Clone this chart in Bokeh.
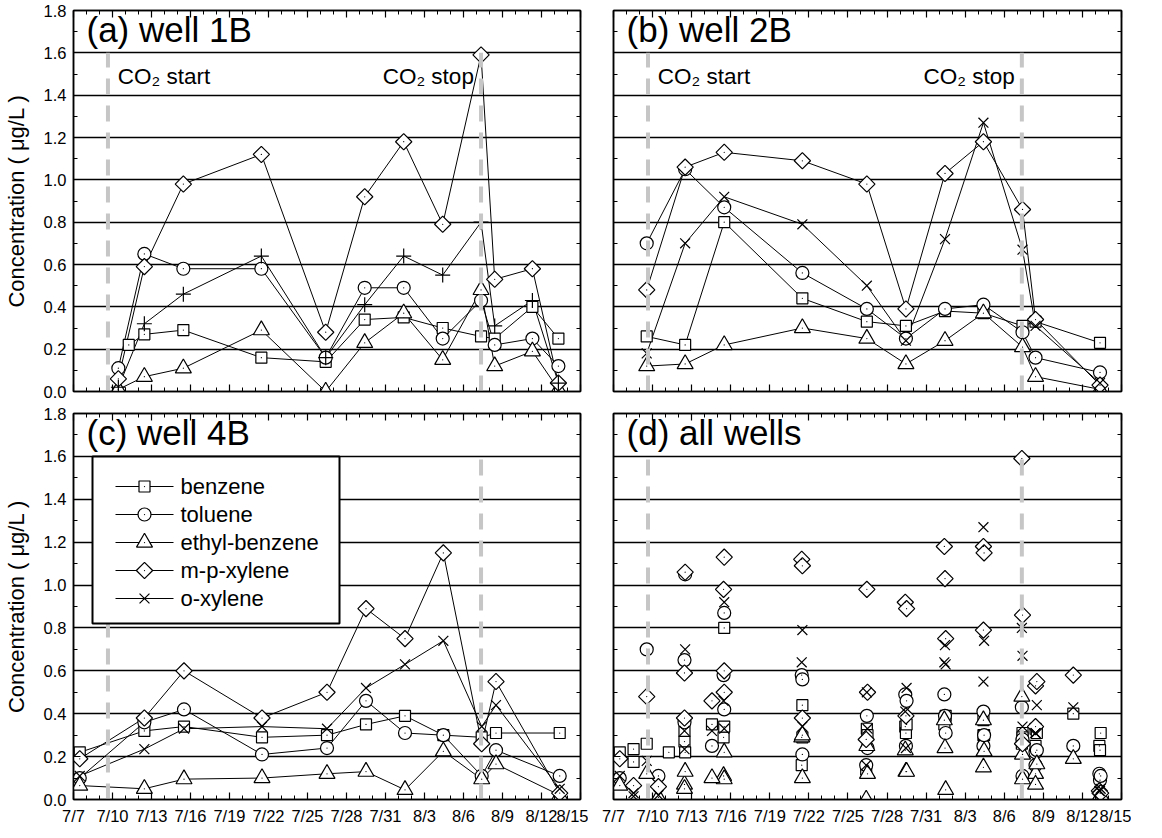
import math
from bokeh.plotting import figure
from bokeh.layouts import row, column
from bokeh.models import FixedTicker, Label, LinearAxis, Range1d
from bokeh.core.properties import value
from bokeh.embed import file_html
from bokeh.resources import INLINE

FONT = "Liberation Sans"

# ---------------- data (x = days after 7/7 00:00) ----------------
date_ticks = [0, 3, 6, 9, 12, 15, 18, 21, 24, 27, 30, 33, 36, 39]
date_labels = ["7/7", "7/10", "7/13", "7/16", "7/19", "7/22", "7/25", "7/28",
               "7/31", "8/3", "8/6", "8/9", "8/12", "8/15"]
conc_ticks = [0.0, 0.2, 0.4, 0.6, 0.8, 1.0, 1.2, 1.4, 1.6, 1.8]
conc_labels = ["0.0", "0.2", "0.4", "0.6", "0.8", "1.0", "1.2", "1.4", "1.6", "1.8"]

co2_days = [2.65, 31.35]          # CO2 start / stop
co2_top = [1.6, 1.6]

species = ["benzene", "toluene", "ethyl-benzene", "m-p-xylene", "o-xylene"]

# well 1B
days_1b = [3.45, 5.45, 8.45, 14.45, 19.4, 22.4, 25.4, 28.4, 31.35, 32.4, 35.3, 37.3]
days_1b_benzene = [4.25, 5.45, 8.45, 14.45, 19.4, 22.4, 25.4, 28.4, 31.35, 32.4, 35.3, 37.3]
benzene_1b = [0.22, 0.27, 0.29, 0.16, 0.14, 0.34, 0.35, 0.30, 0.26, 0.25, 0.40, 0.25]
toluene_1b = [0.11, 0.65, 0.58, 0.58, 0.16, 0.49, 0.49, 0.25, 0.43, 0.22, 0.25, 0.12]
ethylbenzene_1b = [0.01, 0.07, 0.11, 0.29, 0.0, 0.23, 0.37, 0.15, 0.48, 0.12, 0.19, 0.01]
mpxylene_1b = [0.06, 0.59, 0.98, 1.12, 0.28, 0.92, 1.18, 0.79, 1.59, 0.53, 0.58, 0.04]
oxylene_1b = [0.02, 0.32, 0.46, 0.64, 0.16, 0.41, 0.64, 0.55, 0.80, 0.31, 0.43, 0.04]

# well 2B
days_2b = [2.55, 5.5, 8.5, 14.5, 19.45, 22.45, 25.45, 28.4, 31.4, 32.4, 37.35]
benzene_2b = [0.26, 0.22, 0.80, 0.44, 0.33, 0.31, 0.38, 0.37, 0.31, 0.33, 0.23]
toluene_2b = [0.70, 1.05, 0.87, 0.56, 0.39, 0.25, 0.39, 0.41, 0.28, 0.16, 0.09]
ethylbenzene_2b = [0.12, 0.13, 0.22, 0.30, 0.25, 0.13, 0.24, 0.37, 0.21, 0.07, 0.01]
mpxylene_2b = [0.48, 1.06, 1.13, 1.09, 0.98, 0.39, 1.03, 1.18, 0.86, 0.34, 0.03]
oxylene_2b = [0.18, 0.70, 0.92, 0.79, 0.50, 0.24, 0.72, 1.27, 0.67, 0.31, 0.04]

# well 4B
days_4b = [0.48, 5.45, 8.5, 14.5, 19.5, 22.5, 25.5, 28.45, 31.4, 32.5, 37.4]
benzene_4b = [0.22, 0.32, 0.34, 0.29, 0.30, 0.35, 0.39, 0.30, 0.29, 0.31, 0.31]
toluene_4b = [0.10, 0.36, 0.42, 0.21, 0.24, 0.46, 0.31, 0.30, 0.11, 0.23, 0.11]
ethylbenzene_4b = [0.065, 0.05, 0.095, 0.10, 0.12, 0.13, 0.045, 0.225, 0.095, 0.165, 0.02]
mpxylene_4b = [0.19, 0.38, 0.60, 0.38, 0.50, 0.89, 0.75, 1.15, 0.26, 0.55, 0.03]
oxylene_4b = [0.11, 0.235, 0.33, 0.34, 0.33, 0.52, 0.63, 0.74, 0.34, 0.44, 0.05]

# other wells (only in panel d)
other_benzene_days = [1.54, 1.54, 7.56]
other_benzene = [0.235, 0.175, 0.35]
other_toluene_days = [7.56]
other_toluene = [0.25]
other_ethylbenzene_days = [7.56]
other_ethylbenzene = [0.10]
other_mpxylene_days = [1.54, 7.56, 8.5]
other_mpxylene = [0.065, 0.46, 0.50]
other_oxylene_days = [1.54, 1.54, 7.56]
other_oxylene = [0.03, 0.015, 0.32]

# ---------------- styles ----------------
MARK = {
    "benzene": dict(marker="square", size=11, angle=0.0, dot=True),
    "toluene": dict(marker="circle", size=13, angle=0.0, dot=True),
    "ethyl-benzene": dict(marker="triangle", size=16, angle=0.0, dot=True),
    "m-p-xylene": dict(marker="square", size=11.5, angle=math.pi / 4, dot=True),
    "o-xylene": dict(marker="x", size=14, angle=0.0, dot=False),
}
PLUS = dict(marker="cross", size=15, angle=0.0, dot=False)

FW_L, FW_R = 507, 508
FH_T, FH_B = 381, 386
X_MAX, Y_MAX = 39.0, 1.8


def style_axis(ax, labels):
    ax.major_tick_in = 7
    ax.major_tick_out = 0
    ax.minor_tick_in = 4
    ax.minor_tick_out = 0
    ax.axis_line_color = "black"
    ax.axis_line_width = 1.5
    ax.major_tick_line_color = "black"
    ax.major_tick_line_width = 1.2
    ax.minor_tick_line_color = "black"
    ax.minor_tick_line_width = 1
    ax.major_label_text_font = FONT
    ax.major_label_text_color = "black"
    ax.major_label_standoff = 7
    ax.major_label_overrides = labels
    if all(v == "" for v in labels.values()):
        ax.major_label_text_font_size = "1px"
        ax.major_label_standoff = 0
    else:
        ax.major_label_text_font_size = "16.5px"


def make_fig(fw, fh, bl, br, bt, bb, xlabels, ylabels, ytitle):
    p = figure(frame_width=fw, frame_height=fh, x_range=Range1d(0, X_MAX), y_range=Range1d(0, Y_MAX),
               output_backend="svg", toolbar_location=None,
               min_border_left=bl, min_border_right=br, min_border_top=bt, min_border_bottom=bb,
               background_fill_color="white", border_fill_color="white")
    p.outline_line_color = "black"
    p.outline_line_width = 1.5
    xt = FixedTicker(ticks=date_ticks, minor_ticks=list(range(0, 40)))
    yt = FixedTicker(ticks=conc_ticks, minor_ticks=[round(0.1 * i, 1) for i in range(19)])
    p.xaxis[0].ticker = xt
    p.yaxis[0].ticker = yt
    empty_x = {t: "" for t in date_ticks}
    empty_y = {t: "" for t in conc_ticks}
    style_axis(p.xaxis[0], dict(zip(date_ticks, date_labels)) if xlabels else empty_x)
    style_axis(p.yaxis[0], dict(zip(conc_ticks, conc_labels)) if ylabels else empty_y)
    top = LinearAxis(ticker=xt)
    right = LinearAxis(ticker=yt)
    style_axis(top, empty_x)
    style_axis(right, empty_y)
    p.add_layout(top, "above")
    p.add_layout(right, "right")
    if ytitle:
        ya = p.yaxis[0]
        ya.axis_label = "Concentration ( μg/L )"
        ya.axis_label_text_font = FONT
        ya.axis_label_text_font_size = "22px"
        ya.axis_label_text_font_style = "normal"
        ya.axis_label_text_color = "black"
        ya.axis_label_standoff = 12
    p.xgrid.grid_line_color = None
    p.ygrid.ticker = yt
    p.ygrid.grid_line_color = "black"
    p.ygrid.grid_line_width = 1.3
    return p


def put_markers(p, xs, ys, spec):
    p.scatter(xs, ys, marker=spec["marker"], size=spec["size"], angle=spec["angle"],
              fill_color="white", line_color="black", line_width=1.2)
    if spec["dot"]:
        p.scatter(xs, ys, marker="dot", size=5, line_color="black", fill_color="black")


def draw_series(p, series, connect, o_marker=None):
    if connect:
        for name, xs, ys in series:
            p.line(xs, ys, line_color="black", line_width=1)
    for name, xs, ys in series:
        spec = MARK[name] if not (name == "o-xylene" and o_marker) else o_marker
        put_markers(p, xs, ys, spec)


def add_co2(p):
    p.segment(x0=co2_days, y0=[0, 0], x1=co2_days, y1=co2_top,
              line_color="#c6c6c6", line_width=4, line_dash="16 11")


def add_title(p, txt):
    p.add_layout(Label(x=1.0, y=1.71, text=txt, text_font=FONT, text_font_size="35px",
                       text_baseline="middle", text_color="black"))


def add_co2_text(p):
    p.add_layout(Label(x=co2_days[0] + 0.75, y=1.49, text="CO₂ start", text_font=FONT,
                       text_font_size="22.5px", text_baseline="middle", text_color="black"))
    p.add_layout(Label(x=co2_days[1] - 0.55, y=1.49, text="CO₂ stop", text_font=FONT,
                       text_font_size="22.5px", text_baseline="middle", text_align="right",
                       text_color="black"))


def add_legend(p, fw, fh):
    # geometry in frame pixels (from the frame's left / top edges)
    left, right, top, height, row0, row_h = 19, 266, 43, 167, 30, 28
    g0, g1, tx = 42, 100, 107
    sx = X_MAX / fw
    sy = Y_MAX / fh
    top_d = (fh - top) * sy
    p.quad(left=[left * sx], right=[right * sx], top=[top_d], bottom=[(fh - top - height) * sy],
           fill_color="white", line_color="black", line_width=2)
    for i, n in enumerate(species):
        yc = (fh - top - row0 - i * row_h) * sy
        p.segment(x0=[g0 * sx], y0=[yc], x1=[g1 * sx], y1=[yc], line_color="black", line_width=1)
        put_markers(p, [(g0 + g1) / 2 * sx], [yc], MARK[n])
        p.text(x=[tx * sx], y=[yc], text=[n], text_font=value(FONT), text_font_size="22px",
               text_baseline="middle", text_align="left", text_color="black")


# (a) well 1B
pa = make_fig(FW_L, FH_T, 71, 8, 10, 11, False, True, True)
sa = [("benzene", days_1b_benzene, benzene_1b), ("toluene", days_1b, toluene_1b),
      ("ethyl-benzene", days_1b, ethylbenzene_1b), ("m-p-xylene", days_1b, mpxylene_1b),
      ("o-xylene", days_1b, oxylene_1b)]
draw_series(pa, sa, True, o_marker=PLUS)
add_title(pa, "(a) well 1B")
add_co2_text(pa)
add_co2(pa)

# (b) well 2B
pb = make_fig(FW_R, FH_T, 25, 10, 10, 11, False, False, False)
sb = [("benzene", days_2b, benzene_2b), ("toluene", days_2b, toluene_2b),
      ("ethyl-benzene", days_2b, ethylbenzene_2b), ("m-p-xylene", days_2b, mpxylene_2b),
      ("o-xylene", days_2b, oxylene_2b)]
draw_series(pb, sb, True)
add_title(pb, "(b) well 2B")
add_co2_text(pb)
add_co2(pb)

# (c) well 4B
pc = make_fig(FW_L, FH_B, 71, 8, 11, 23, True, True, True)
sc = [("benzene", days_4b, benzene_4b), ("toluene", days_4b, toluene_4b),
      ("ethyl-benzene", days_4b, ethylbenzene_4b), ("m-p-xylene", days_4b, mpxylene_4b),
      ("o-xylene", days_4b, oxylene_4b)]
draw_series(pc, sc, True)
add_title(pc, "(c) well 4B")
add_co2(pc)
add_legend(pc, FW_L, FH_B)

# (d) all wells
pd_ = make_fig(FW_R, FH_B, 25, 10, 11, 23, True, False, False)
sd = [("benzene", days_1b_benzene + days_2b + days_4b + other_benzene_days,
       benzene_1b + benzene_2b + benzene_4b + other_benzene),
      ("toluene", days_1b + days_2b + days_4b + other_toluene_days,
       toluene_1b + toluene_2b + toluene_4b + other_toluene),
      ("ethyl-benzene", days_1b + days_2b + days_4b + other_ethylbenzene_days,
       ethylbenzene_1b + ethylbenzene_2b + ethylbenzene_4b + other_ethylbenzene),
      ("m-p-xylene", days_1b + days_2b + days_4b + other_mpxylene_days,
       mpxylene_1b + mpxylene_2b + mpxylene_4b + other_mpxylene),
      ("o-xylene", days_1b + days_2b + days_4b + other_oxylene_days,
       oxylene_1b + oxylene_2b + oxylene_4b + other_oxylene)]
draw_series(pd_, sd, False)
add_title(pd_, "(d) all wells")
add_co2(pd_)

layout = column(row(pa, pb), row(pc, pd_))
open("out.html", "w").write(file_html(layout, INLINE))
